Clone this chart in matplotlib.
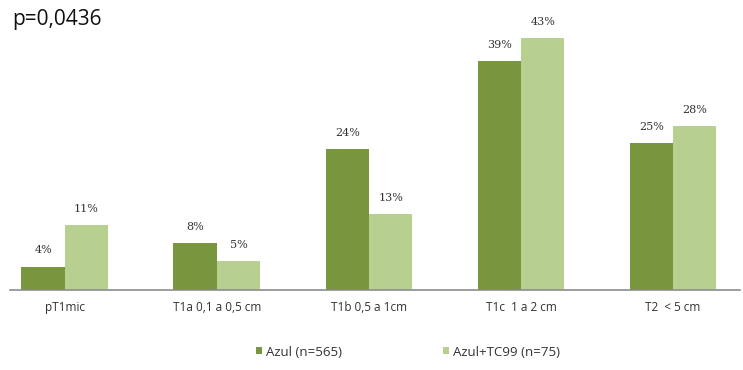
import matplotlib
matplotlib.use("Agg")
import matplotlib.pyplot as plt
import numpy as np

categories = ["pT1mic", "T1a 0,1 a 0,5 cm", "T1b 0,5 a 1cm", "T1c  1 a 2 cm", "T2  < 5 cm"]
azul = [4, 8, 24, 39, 25]
azul_tc99 = [11, 5, 13, 43, 28]
series_names = ["Azul (n=565)", "Azul+TC99 (n=75)"]
p_text = "p=0,0436"

dark = "#78963e"
light = "#b7cf8f"

fig = plt.figure(figsize=(7.43, 3.70), dpi=100)
ax = fig.add_axes([10/743, 1-290/370, 730/743, (290-26)/370])
x = np.arange(len(categories))
w = 0.285
b1 = ax.bar(x - w/2, azul, w, color=dark, label=series_names[0])
b2 = ax.bar(x + w/2, azul_tc99, w, color=light, label=series_names[1])
for bars, vals in ((b1, azul), (b2, azul_tc99)):
    for r, v in zip(bars, vals):
        ax.text(r.get_x() + r.get_width()/2, v + 1.9, f"{v}%", ha="center", va="bottom",
                fontsize=8, family="DejaVu Serif", color="#333333")
ax.set_xlim(-0.36, 4.44)
ax.set_ylim(0, 45)
ax.set_yticks([])
ax.set_xticks(x)
ax.set_xticklabels(categories, fontsize=8.5, family="Open Sans", color="#333333")
ax.tick_params(axis="x", length=0, pad=8)
for s in ("top", "right", "left"):
    ax.spines[s].set_visible(False)
ax.spines["bottom"].set_color("#8c8c8c")
ax.spines["bottom"].set_linewidth(1.2)

fig.text(12/743, 1-20/370, p_text, fontsize=15, family="Open Sans", va="center", ha="left", color="#111111")

leg = fig.legend(handles=[b1, b2], labels=series_names, loc="center", bbox_to_anchor=(408/743, 1-352/370),
                 ncol=2, frameon=False, fontsize=9.5, handlelength=0.45, handleheight=0.45,
                 handletextpad=0.25, columnspacing=7.7)
for t in leg.get_texts():
    t.set_family("Open Sans")
    t.set_color("#333333")

fig.savefig("out.png", dpi=100, facecolor="white")
